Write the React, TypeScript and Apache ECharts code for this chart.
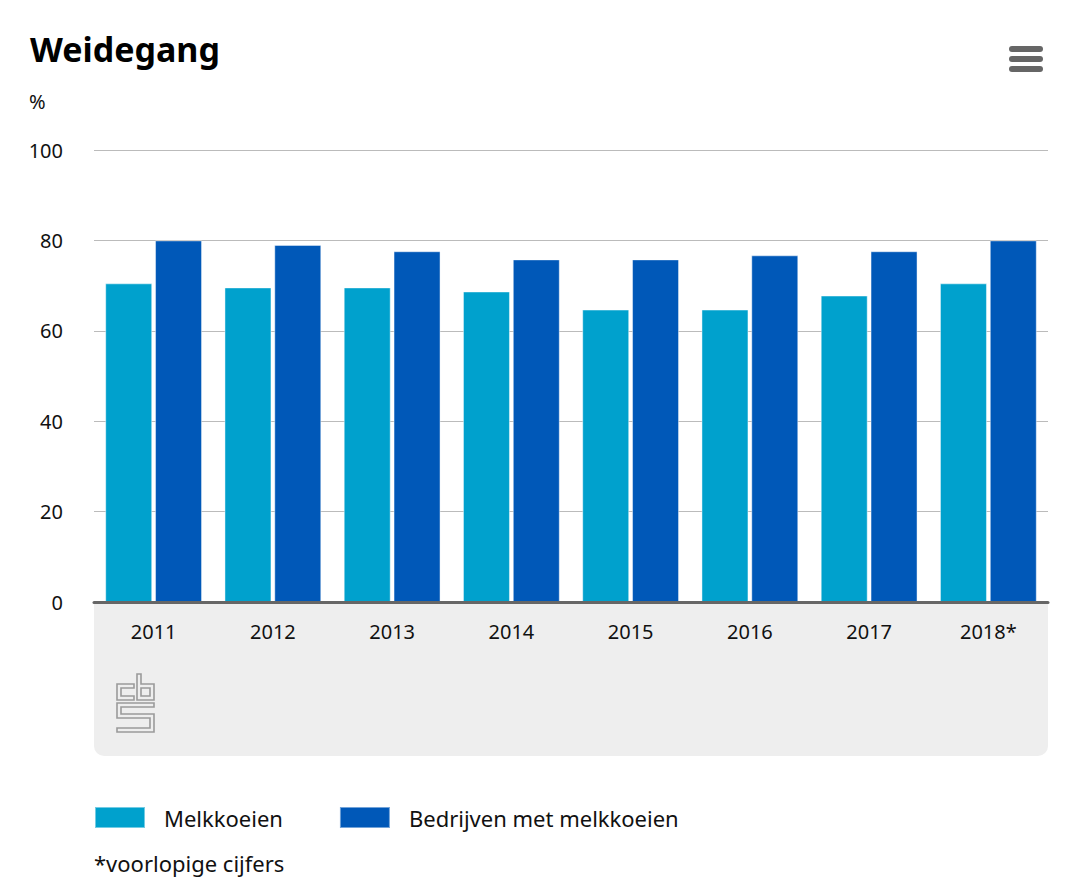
import React, { useEffect, useRef } from "react";
import * as echarts from "echarts";

const years = ["2011", "2012", "2013", "2014", "2015", "2016", "2017", "2018*"];
const melkkoeien = [70.5, 69.6, 69.6, 68.7, 64.7, 64.7, 67.8, 70.5];
const bedrijven = [80, 79, 77.6, 75.8, 75.8, 76.7, 77.6, 80];
const yTicks = [0, 20, 40, 60, 80, 100];

const FONT = "'Noto Sans', 'DejaVu Sans', sans-serif";
const LIGHT = "#00a1cd";
const DARK = "#0058b8";

// CBS logo outline ("c", "b" and "s"), 38 x 58 units
const CBS_LOGO =
  "M0,10 H17 V14 H4 V22 H17 V26 H0 Z " +
  "M20,0 H24 V10 H37 V26 H20 Z M24,14 V22 H33 V14 Z " +
  "M0,29 H37 V33 H4 V40 H37 V58 H0 V54 H33 V44 H0 Z";

echarts.graphic.registerShape("cbslogo", echarts.graphic.extendPath(CBS_LOGO, {}));

export default function App() {
  const ref = useRef<HTMLDivElement>(null);

  useEffect(() => {
    if (!ref.current) return;
    const chart = echarts.init(ref.current, undefined, { renderer: "svg" });
    chart.setOption({
      animation: false,
      backgroundColor: "#ffffff",
      textStyle: { fontFamily: FONT },
      title: {
        text: "Weidegang",
        left: 25,
        top: 27,
        textStyle: { fontFamily: FONT, fontSize: 34, fontWeight: "bold", color: "#000" },
      },
      grid: { left: 94, right: 23, top: 150, bottom: 289 },
      legend: {
        left: 94,
        top: 806,
        padding: 0,
        itemWidth: 50,
        itemHeight: 21,
        itemGap: 56,
        icon: "rect",
        textStyle: { fontFamily: FONT, fontSize: 22, color: "#111", padding: [0, 0, 0, 14] },
        data: ["Melkkoeien", "Bedrijven met melkkoeien"],
      },
      xAxis: {
        type: "category",
        data: years,
        axisLine: { lineStyle: { color: "#666", width: 3 } },
        axisTick: { show: false },
        axisLabel: { fontFamily: FONT, fontSize: 20, color: "#111", margin: 19 },
        z: 5,
      },
      yAxis: {
        type: "value",
        min: 0,
        max: 100,
        interval: 20,
        axisLine: { show: false },
        axisTick: { show: false },
        axisLabel: {
          fontFamily: FONT,
          fontSize: 20,
          color: "#111",
          margin: 31,
          formatter: (v: number) => (yTicks.includes(v) ? String(v) : ""),
        },
        splitLine: { lineStyle: { color: "#bbbbbb", width: 1 } },
      },
      series: [
        {
          name: "Melkkoeien",
          type: "bar",
          data: melkkoeien,
          barWidth: 47,
          barGap: "6%",
          itemStyle: { color: LIGHT, borderColor: "rgba(255,255,255,0.45)", borderWidth: 1 },
        },
        {
          name: "Bedrijven met melkkoeien",
          type: "bar",
          data: bedrijven,
          barWidth: 47,
          barGap: "6%",
          itemStyle: { color: DARK, borderColor: "rgba(255,255,255,0.45)", borderWidth: 1 },
        },
      ],
      graphic: [
        {
          type: "rect",
          z: -10,
          silent: true,
          shape: { x: 94, y: 602, width: 954, height: 154, r: [0, 0, 10, 10] },
          style: { fill: "#eeeeee" },
        },
        {
          type: "cbslogo",
          x: 117,
          y: 674,
          scaleX: 1,
          scaleY: 1,
          silent: true,
          style: { fill: "none", stroke: "#9a9a9a", lineWidth: 1.6 },
        },
        {
          type: "text",
          x: 29,
          y: 91,
          style: { text: "%", fontFamily: FONT, fontSize: 20, fill: "#111" },
        },
        {
          type: "text",
          x: 94,
          y: 852,
          style: { text: "*voorlopige cijfers", fontFamily: FONT, fontSize: 22, fill: "#111" },
        },
        {
          type: "group",
          x: 1009,
          y: 46,
          children: [0, 10, 20].map((dy) => ({
            type: "rect",
            shape: { x: 0, y: dy, width: 34, height: 6, r: 3 },
            style: { fill: "#666666" },
          })),
        },
      ],
    });
    return () => chart.dispose();
  }, []);

  return (
    <div
      ref={ref}
      style={{ position: "absolute", left: 0, top: 0, width: 1071, height: 891 }}
    />
  );
}
